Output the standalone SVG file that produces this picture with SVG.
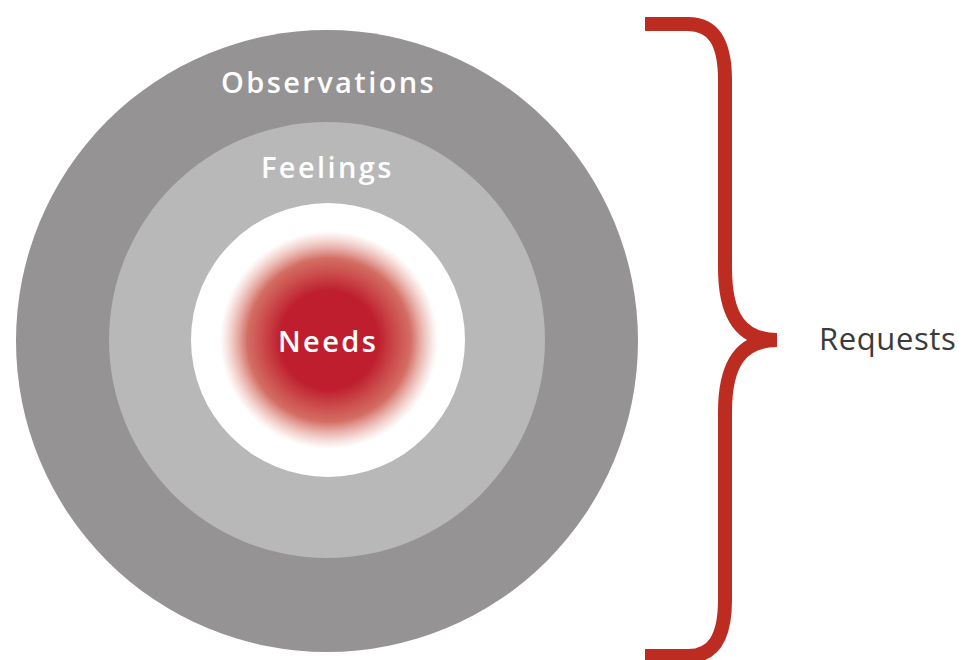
<svg xmlns="http://www.w3.org/2000/svg" width="963" height="660" viewBox="0 0 963 660">
  <style>
    .ring-label { font-family: "Open Sans", "Noto Sans", sans-serif; font-weight: 600; fill: #ffffff; font-size: 29px; letter-spacing: 2.4px; }
    .side-label { font-family: "Open Sans", "Noto Sans", sans-serif; font-weight: 400; fill: #3b3b3b; font-size: 31px; letter-spacing: 0.6px; }
    .brace { fill: none; stroke: #bd2c20; stroke-width: 14; stroke-linejoin: miter; }
  </style>
  <defs>
    <radialGradient id="coreGlow" cx="0.5" cy="0.5" r="0.5">
      <stop offset="0" stop-color="#be1e2d"/>
      <stop offset="0.45" stop-color="#be1e2d"/>
      <stop offset="0.75" stop-color="#cc5448" stop-opacity="0.85"/>
      <stop offset="1" stop-color="#e08a7c" stop-opacity="0"/>
    </radialGradient>
  </defs>
  <rect width="963" height="660" fill="#ffffff"/>

  <g id="observations">
    <circle cx="327" cy="341" r="311" fill="#959394"/>
    <text class="ring-label" x="221" y="93">Observations</text>
  </g>

  <g id="feelings">
    <circle cx="327" cy="340" r="218" fill="#b9b8b9"/>
    <text class="ring-label" x="261" y="178">Feelings</text>
  </g>

  <g id="needs">
    <circle cx="328" cy="340" r="137" fill="#ffffff"/>
    <circle cx="329" cy="340" r="109" fill="url(#coreGlow)"/>
    <text class="ring-label" x="278" y="352">Needs</text>
  </g>

  <g id="connectors">
    <path class="brace" d="M645,24 H688 C713,24 725,42 725,80 V268 C725,318 742,340 777,340 C742,340 725,362 725,412 V600 C725,638 713,656 688,656 H645"/>
  </g>

  <g id="requests">
    <text class="side-label" x="819" y="350">Requests</text>
  </g>
</svg>
